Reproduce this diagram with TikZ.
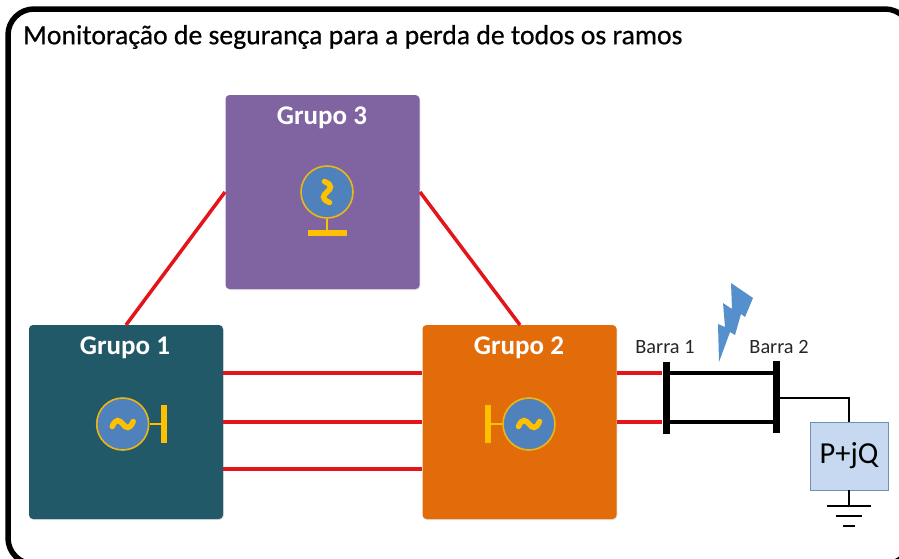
\documentclass[tikz,border=0pt]{standalone}
\usepackage{fontspec}
\setmainfont{Carlito}
\newfontfamily\headfont[FakeBold=0.6]{Carlito}
\usepackage{tikz}
\usetikzlibrary{calc}
\usetikzlibrary{positioning}
\usetikzlibrary{shadows}
\definecolor{redline}{HTML}{E3151A}
\definecolor{goldline}{HTML}{FFC000}
\definecolor{genblue}{HTML}{4F81BD}
\definecolor{tealbox}{HTML}{215968}
\definecolor{orangebox}{HTML}{E36C0A}
\definecolor{purplebox}{HTML}{8064A2}
\definecolor{loadblue}{HTML}{C6D9F1}
\definecolor{loadedge}{HTML}{6F8FB5}
\definecolor{boltblue}{HTML}{5590CC}
\begin{document}
\begin{tikzpicture}[%
  x=1pt, y=-1pt,
  grupo/.style={rounded corners=4pt,minimum size=194pt,inner sep=0pt,
    drop shadow={shadow xshift=0.8pt,shadow yshift=-1pt,opacity=0.25}},
  title/.style={font=\fontsize{27}{30}\selectfont\bfseries,text=white},
  gen/.style={circle,fill=genblue,draw=goldline!85!gray,line width=1.6pt,
    minimum size=52pt,inner sep=0pt},
  gbar/.style={fill=goldline,draw=none,inner sep=0pt},
  stem/.style={draw=goldline,line width=2.2pt},
  wave/.pic={\draw[goldline,line width=5.5pt,line cap=round]
    (-10.5,2.5) .. controls (-7,-6) and (-3,-4) .. (0,0) .. controls (3,4) and (7,6) .. (10.5,-2.5);},
  tie/.style={draw=redline,line width=3.5pt},
  line/.style={draw=black,line width=3.5pt},
  barra/.style={fill=black,inner sep=0pt,minimum width=7pt,minimum height=72pt},
  barlabel/.style={font=\fontsize{20.3}{22}\selectfont,text=black!85}
  ]
  \useasboundingbox (0,0) rectangle (899,558);
  % Outer frame
  \draw[line width=5.5pt,rounded corners=26pt] (8,9) rectangle (911,564);
  \node[anchor=west,inner sep=0pt,font=\fontsize{27.7}{30}\selectfont\headfont] (head) at (23,37)
    {Monitoração de segurança para a perda de todos os ramos};

  % Draw the group boxes
  \node[grupo,fill=tealbox] (G1) at (126,422) {};
  \node[grupo,fill=orangebox] (G2) at (519.5,422) {};
  \node[grupo,fill=purplebox] (G3) at (322.5,192) {};
  \node[title] (L1) at (125,348) {Grupo 1};
  \node[title] (L2) at (519,348) {Grupo 2};
  \node[title] (L3) at (322,118) {Grupo 3};

  % Ties between the groups
  \foreach \y in {373,422,469}
  \draw[tie] (G1.east |- 0,\y) -- (G2.west |- 0,\y);
  \coordinate (G3-L) at (225,192);
  \coordinate (G3-R) at (420,192);
  \coordinate (G1-T) at (126,325);
  \coordinate (G2-T) at (520,325);
  \draw[tie] (G3-L) -- (G1-T);
  \draw[tie] (G3-R) -- (G2-T);

  % Bars and the two lines between them
  \node[barra] (B1) at (666,398) {};
  \node[barra] (B2) at (776.5,396.5) {};
  \foreach \y in {373,422} {
    \draw[tie] (G2.east |- 0,\y) -- (B1.west |- 0,\y);
    \draw[line] (B1.east |- 0,\y) -- (B2.west |- 0,\y);
  }
  \node[barlabel] (N1) at (665,347) {Barra 1};
  \node[barlabel] (N2) at (779,347) {Barra 2};

  % Generators
  \node[gen] (M1) at (122.7,424) {};
  \node[gbar,minimum width=6.5pt,minimum height=38pt] (T1) at (164,424) {};
  \draw[stem] (M1) -- (T1);
  \path (M1) pic {wave};
  \node[gen] (M2) at (529,424) {};
  \node[gbar,minimum width=6.5pt,minimum height=38pt] (T2) at (488,424) {};
  \draw[stem] (M2) -- (T2);
  \path (M2) pic {wave};
  \node[gen] (M3) at (327,192) {};
  \node[gbar,minimum width=39pt,minimum height=6.5pt] (T3) at (327,233) {};
  \draw[stem] (M3) -- (T3);
  \path (M3) pic[rotate=-90] {wave};

  % Load and ground
  \node[draw=loadedge,line width=0.8pt,fill=loadblue,minimum width=78pt,minimum height=68pt,
    inner sep=0pt,font=\fontsize{30.5}{32}\selectfont] (PQ) at (849,456) {P+jQ};
  \draw[line width=2.2pt] (B2.east |- 0,398) -| (PQ.north);
  \coordinate (E1) at (849,506);
  \draw[line width=2.2pt] (PQ.south) -- (E1);
  \draw[line width=2.5pt] (827,506) -- (871,506);
  \draw[line width=2.5pt] (836,516) -- (862,516);
  \draw[line width=2.5pt] (843,526) -- (855,526);

  % Lightning
  \fill[boltblue] (731,283) -- (753,298) -- (745,317) -- (741,314) -- (735,335) -- (730,332)
    -- (719,362) -- (718,324) -- (725,327) -- (723,303) -- (732,309) -- cycle;
\end{tikzpicture}
\end{document}
